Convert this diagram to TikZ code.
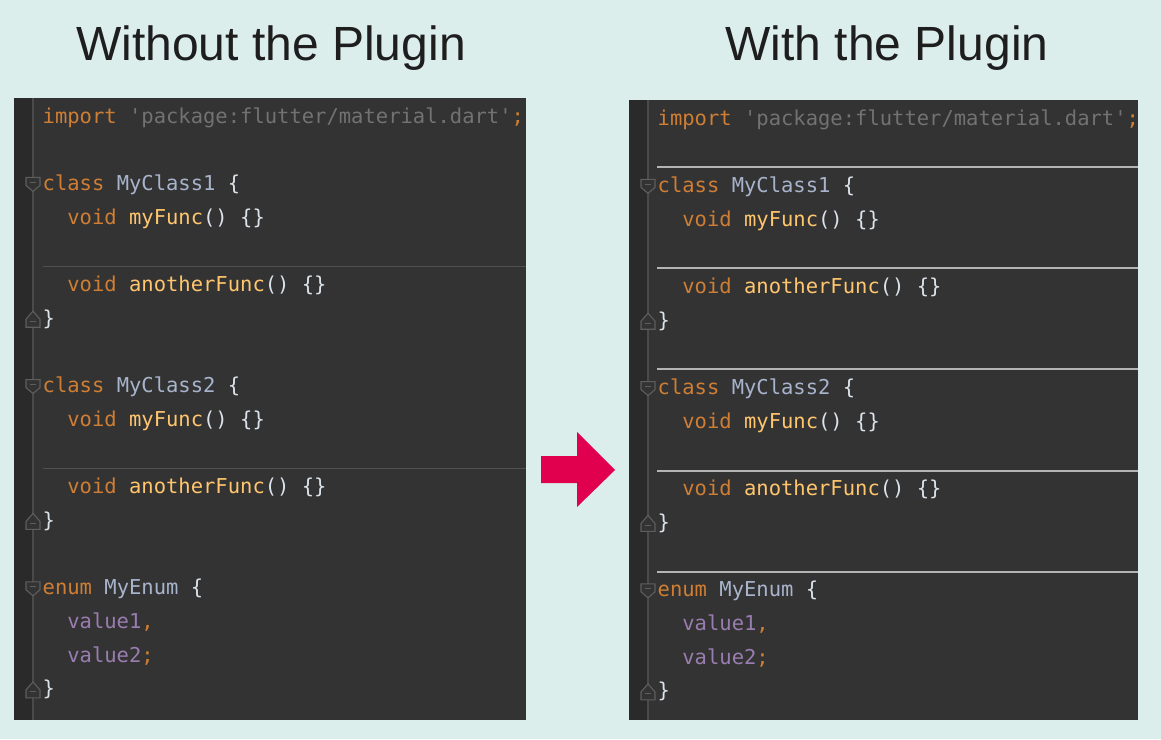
\documentclass[tikz,border=0pt]{standalone}
\usepackage{fontspec}
\setmainfont{Liberation Sans}
\setmonofont{DejaVu Sans Mono}
\usepackage{xcolor}
\definecolor{bgcol}{HTML}{DCEEEC}
\definecolor{titlecol}{HTML}{1E1E1E}
\definecolor{panelcol}{HTML}{333333}
\definecolor{guttercol}{HTML}{2A2A2A}
\definecolor{gutterline}{HTML}{4A4A4A}
\definecolor{sepdarkcol}{HTML}{505050}
\definecolor{seplightcol}{HTML}{B4B4B4}
\definecolor{foldcol}{HTML}{5E5E5E}
\definecolor{arrowcol}{HTML}{E0004D}
\definecolor{kwcol}{HTML}{CF7E33}
\definecolor{fncol}{HTML}{FFC66D}
\definecolor{typcol}{HTML}{A8B4CC}
\definecolor{strcol}{HTML}{727272}
\definecolor{enmcol}{HTML}{9A7DB0}
\definecolor{puncol}{HTML}{DCE2EA}
\usetikzlibrary{positioning,calc}

\newcommand\kwd[1]{\textcolor{kwcol}{#1}}
\newcommand\fnc[1]{\textcolor{fncol}{#1}}
\newcommand\typ[1]{\textcolor{typcol}{#1}}
\newcommand\lit[1]{\textcolor{strcol}{#1}}
\newcommand\enm[1]{\textcolor{enmcol}{#1}}

\tikzset{
  codeline/.style={anchor=base west, inner sep=0pt, text=puncol,
    font=\ttfamily\fontsize{20.5}{20.5}\selectfont},
  title/.style={anchor=base, inner sep=0pt, text=titlecol,
    font=\fontsize{48}{48}\selectfont},
  sepdark/.style={draw=sepdarkcol, line width=1.3pt},
  seplight/.style={draw=seplightcol, line width=2pt},
  fold/.style={draw=foldcol, fill=panelcol, line width=1.1pt},
}

% line centre: #3+18+(n-1)*33.7, baseline 7 lower
\newcommand\foldopen[1]{%
  \draw[fold] ($(#1)+(-7,-6)$) -- ++(14,0) -- ++(0,8) -- ++(-7,6) -- ++(-7,-6) -- cycle;
  \draw[foldcol, line width=1pt] ($(#1)+(-3,-1)$) -- ++(6,0);}
\newcommand\foldclose[1]{%
  \draw[fold] ($(#1)+(-7,9)$) -- ++(14,0) -- ++(0,-8) -- ++(-7,-8) -- ++(-7,8) -- cycle;
  \draw[foldcol, line width=1pt] ($(#1)+(-3,3)$) -- ++(6,0);}

\newcommand\codepanel[5]{%
  \fill[panelcol] (#2,#3) rectangle ++(#4,#5);
  \fill[guttercol] (#2,#3) rectangle ++(18,#5);
  \draw[gutterline, line width=1.2pt] ({#2+19},#3) -- ++(0,#5);
  \draw[sepdark] ({#2+29},{#3+18+4*33.7+15.5}) -- ({#2+#4},{#3+18+4*33.7+15.5});
  \draw[sepdark] ({#2+29},{#3+18+10*33.7+15.5}) -- ({#2+#4},{#3+18+10*33.7+15.5});
  \node[codeline] (#1-1) at ({#2+28.5},{#3+25}) {\kwd{import} \lit{'package:flutter/material.dart'\textcolor{kwcol}{;}}};
  \node[codeline] (#1-3) at ({#2+28.5},{#3+25+2*33.7}) {\kwd{class} \typ{MyClass1} \{};
  \node[codeline] (#1-4) at ({#2+28.5},{#3+25+3*33.7}) {\phantom{xx}\kwd{void} \fnc{myFunc}() \{\}};
  \node[codeline] (#1-6) at ({#2+28.5},{#3+25+5*33.7}) {\phantom{xx}\kwd{void} \fnc{anotherFunc}() \{\}};
  \node[codeline] (#1-7) at ({#2+28.5},{#3+25+6*33.7}) {\}};
  \node[codeline] (#1-9) at ({#2+28.5},{#3+25+8*33.7}) {\kwd{class} \typ{MyClass2} \{};
  \node[codeline] (#1-10) at ({#2+28.5},{#3+25+9*33.7}) {\phantom{xx}\kwd{void} \fnc{myFunc}() \{\}};
  \node[codeline] (#1-12) at ({#2+28.5},{#3+25+11*33.7}) {\phantom{xx}\kwd{void} \fnc{anotherFunc}() \{\}};
  \node[codeline] (#1-13) at ({#2+28.5},{#3+25+12*33.7}) {\}};
  \node[codeline] (#1-15) at ({#2+28.5},{#3+25+14*33.7}) {\kwd{enum} \typ{MyEnum} \{};
  \node[codeline] (#1-16) at ({#2+28.5},{#3+25+15*33.7}) {\phantom{xx}\enm{value1}\kwd{,}};
  \node[codeline] (#1-17) at ({#2+28.5},{#3+25+16*33.7}) {\phantom{xx}\enm{value2}\kwd{;}};
  \node[codeline] (#1-18) at ({#2+28.5},{#3+25+17*33.7}) {\}};
  \foreach \n in {3,9,15} {
    \coordinate (#1-f\n) at ({#2+19},{#3+18+(\n-1)*33.7});
    \foldopen{#1-f\n}
  }
  \foreach \n in {7,13,18} {
    \coordinate (#1-f\n) at ({#2+19},{#3+18+(\n-1)*33.7});
    \foldclose{#1-f\n}
  }
}

\begin{document}
\begin{tikzpicture}[x=1pt, y=-1pt]
  \fill[bgcol] (0,0) rectangle (1161,739);
  \useasboundingbox (0,0) rectangle (1161,739);

  \node[title] (titleleft) at (271,60) {Without the Plugin};
  \node[title] (titleright) at (887,60) {With the Plugin};

  \codepanel{left}{14}{98}{512}{622}
  \codepanel{right}{629}{100}{509}{620}

  \foreach \n in {1,4,7,10,13} {
    \draw[seplight] ({629+28},{100+18+\n*33.7+15.5}) -- ({1138},{100+18+\n*33.7+15.5});
  }

  \fill[arrowcol] (541,456) -- (577,456) -- (577,432) -- (615,470)
    -- (577,507) -- (577,483) -- (541,483) -- cycle;
\end{tikzpicture}
\end{document}
